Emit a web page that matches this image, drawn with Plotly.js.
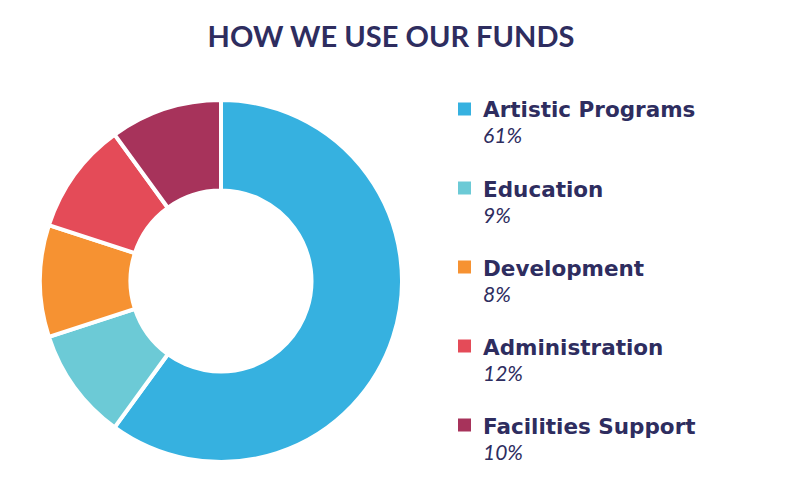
<!DOCTYPE html>
<html>
<head>
<meta charset="utf-8">
<script src="https://cdn.plot.ly/plotly-3.0.1.min.js"></script>
<style>html,body{margin:0;padding:0;background:#fff;}#chart{width:795px;height:489px;}</style>
</head>
<body>
<div id="chart"></div>
<script>
// Data
const categories = ["Artistic Programs", "Education", "Development", "Administration", "Facilities Support"];
const sliceValues = [60, 10, 10, 10, 10];          // slice sizes as drawn
const shareLabels = ["61%", "9%", "8%", "12%", "10%"]; // percentages printed in the legend
const colors = ["#36b1e0", "#6ccad6", "#f69232", "#e44b58", "#a7335b"];
const titleText = "HOW WE USE OUR FUNDS";

const W = 795, H = 489;
const textColor = "#2e2d5f";
const font = "Lato, 'Open Sans', sans-serif";
const labelFont = "'DejaVu Sans', Lato, sans-serif";

const trace = {
  type: "pie",
  labels: categories,
  values: sliceValues,
  sort: false,
  direction: "clockwise",
  rotation: 0,
  hole: 0.5,
  textinfo: "none",
  hoverinfo: "label+percent",
  showlegend: false,
  marker: {colors: colors, line: {color: "#ffffff", width: 4}},
  domain: {x: [40 / W, 402 / W], y: [1 - 462 / H, 1 - 100 / H]}
};

const annotations = [];
const shapes = [];
const rowTop = 109, pitch = 79;
categories.forEach((c, i) => {
  const yc = rowTop + pitch * i;
  shapes.push({
    type: "rect", xref: "paper", yref: "paper",
    x0: 458 / W, x1: 471 / W, y0: 1 - (yc + 6.5) / H, y1: 1 - (yc - 6.5) / H,
    fillcolor: colors[i], line: {width: 0}
  });
  annotations.push({
    xref: "paper", yref: "paper", x: 481 / W, y: 1 - (yc + 1) / H,
    xanchor: "left", yanchor: "middle", showarrow: false,
    text: "<b>" + c + "</b>",
    font: {family: labelFont, size: 21.5, color: textColor}
  });
  annotations.push({
    xref: "paper", yref: "paper", x: 481 / W, y: 1 - (yc + 26) / H,
    xanchor: "left", yanchor: "middle", showarrow: false,
    text: "<i>" + shareLabels[i] + "</i>",
    font: {family: font, size: 21, color: textColor}
  });
});

const layout = {
  width: W, height: H,
  margin: {l: 0, r: 0, t: 0, b: 0},
  paper_bgcolor: "#ffffff",
  title: {
    text: "<b>" + titleText + "</b>",
    font: {family: font, size: 29, color: textColor},
    x: 391 / W, xanchor: "center", y: 1 - 37 / H, yanchor: "middle"
  },
  annotations: annotations,
  shapes: shapes,
  showlegend: false
};

Plotly.newPlot("chart", [trace], layout, {displayModeBar: false, responsive: false});
</script>
</body>
</html>
